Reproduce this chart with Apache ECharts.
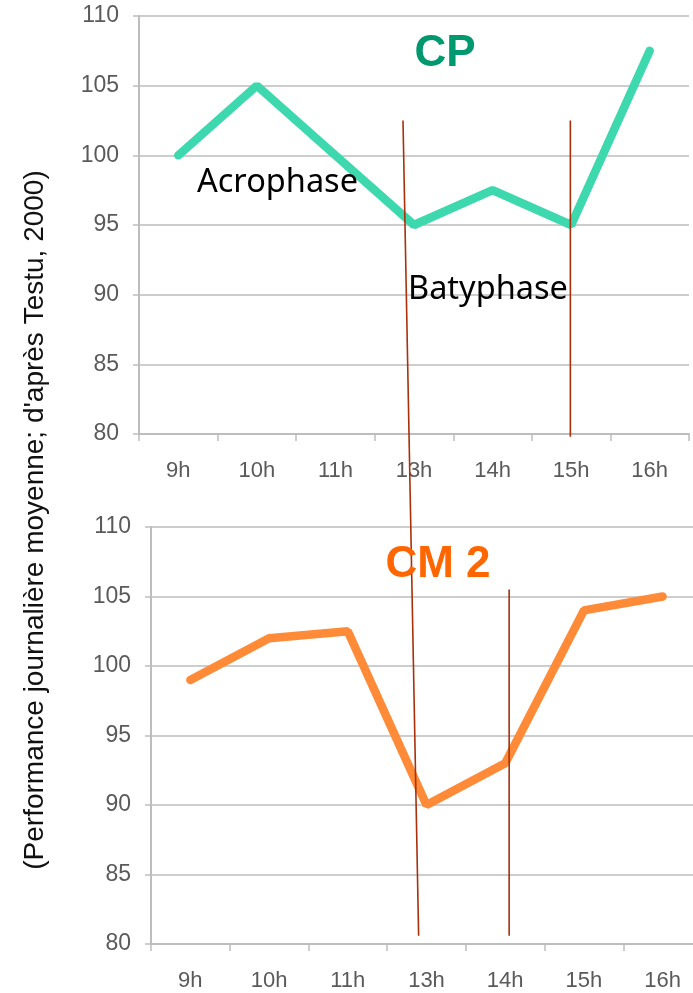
<!DOCTYPE html>
<html><head><meta charset="utf-8">
<style>html,body{margin:0;padding:0;background:#fff}#c{width:693px;height:993px}</style>
<script src="https://cdn.jsdelivr.net/npm/echarts@6/dist/echarts.min.js"></script>
</head><body><div id="c"></div>
<script>
const categories = ['9h','10h','11h','13h','14h','15h','16h'];
const cpValues = [100, 105, 100, 95, 97.5, 95, 107.5];
const cm2Values = [99, 102, 102.5, 90, 93, 104, 105];
const yTicks = [80, 85, 90, 95, 100, 105, 110];
// annotation lines in axis units: [gridIndex, categoryIndex (fractional), value]
const phaseLines = [
  [[0, 2.86, 102.5], [1, 2.90, 80.6]],
  [[0, 4.99, 102.5], [0, 4.99, 79.8]],
  [[1, 4.05, 105.5], [1, 4.05, 80.6]]
];

const chart = echarts.init(document.getElementById('c'), null, {renderer:'canvas'});
const gridColor = '#BDBDBD';
const labelColor = '#5a5a5a';
function xAx(i){return {type:'category', gridIndex:i, data:categories, boundaryGap:true,
  axisLine:{show:true, lineStyle:{color:gridColor, width:2}},
  axisTick:{show:true, length:7, lineStyle:{color:gridColor, width:1.5}},
  axisLabel:{color:labelColor, fontFamily:'Liberation Sans, Arial', fontSize:22, margin:26}};}
function yAx(i){return {type:'value', gridIndex:i, min:yTicks[0], max:yTicks[yTicks.length-1], interval:5,
  axisLine:{show:true, lineStyle:{color:gridColor, width:2}},
  axisTick:{show:true, length:6, lineStyle:{color:gridColor, width:1.5}},
  splitLine:{show:true, lineStyle:{color:gridColor, width:1.5}},
  axisLabel:{color:labelColor, fontFamily:'Liberation Sans, Arial', fontSize:23, margin:20}};}

chart.setOption({
  animation:false,
  backgroundColor:'#fff',
  grid:[
    {left:139, top:16, right:4, height:418, outerBoundsMode:'none', containLabel:false},
    {left:151, top:527, right:-9, height:417, outerBoundsMode:'none', containLabel:false}
  ],
  xAxis:[xAx(0), xAx(1)],
  yAxis:[yAx(0), yAx(1)],
  series:[
    {type:'line', xAxisIndex:0, yAxisIndex:0, data:cpValues, showSymbol:false, symbol:'none',
     lineStyle:{color:'#3ED8AE', width:8.5, cap:'round'}, z:3},
    {type:'line', xAxisIndex:1, yAxisIndex:1, data:cm2Values, showSymbol:false, symbol:'none',
     lineStyle:{color:'#FF8A38', width:8.5, cap:'round'}, z:3}
  ]
});

function toPx(pt){
  const g = pt[0], idx = pt[1], v = pt[2];
  const i0 = Math.floor(idx), f = idx - i0;
  const a = chart.convertToPixel({gridIndex:g}, [i0, v]);
  const b = chart.convertToPixel({gridIndex:g}, [i0 + 1, v]);
  return [a[0] + f * (b[0] - a[0]), a[1]];
}
const gfx = [];
phaseLines.forEach(seg=>{
  const p1 = toPx(seg[0]);
  const p2 = toPx(seg[1]);
  gfx.push({type:'line', z:10, shape:{x1:p1[0], y1:p1[1], x2:p2[0], y2:p2[1]},
    style:{stroke:'#A8300A', lineWidth:1.6}});
});
gfx.push({type:'text', z:11, x:445, y:54, style:{text:'CP', fill:'#00996F', font:'bold 44px "Liberation Sans", Arial', align:'center', verticalAlign:'middle'}});
gfx.push({type:'text', z:11, x:438, y:565, style:{text:'CM 2', fill:'#FF6600', font:'bold 44px "Liberation Sans", Arial', align:'center', verticalAlign:'middle'}});
gfx.push({type:'text', z:11, x:197, y:183, style:{text:'Acrophase', fill:'#000', font:'32.5px "Noto Sans"', align:'left', verticalAlign:'middle'}});
gfx.push({type:'text', z:11, x:408, y:290, style:{text:'Batyphase', fill:'#000', font:'32.5px "Noto Sans"', align:'left', verticalAlign:'middle'}});
gfx.push({type:'text', z:11, x:35, y:520, rotation:Math.PI/2,
  style:{text:"(Performance journalière moyenne; d'après Testu, 2000)", fill:'#111', font:'28px "Liberation Sans", Arial', align:'center', verticalAlign:'middle'}});
chart.setOption({graphic:gfx});
</script></body></html>
